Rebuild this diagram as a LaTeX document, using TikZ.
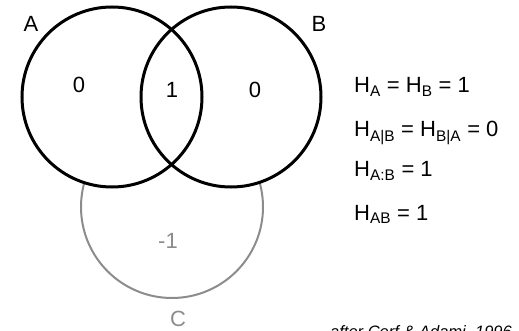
\documentclass[tikz,border=0pt]{standalone}
\usepackage{fontspec}
\setmainfont{Liberation Sans}

\begin{document}
\begin{tikzpicture}[x=1pt,y=-1pt,
    ring/.style={draw=black,line width=3pt},
    ghost/.style={draw=black!45,line width=2pt},
    txt/.style={font=\fontsize{22}{26}\selectfont,inner sep=0pt,anchor=base},
    eq/.style={txt,anchor=base west},
    faint/.style={txt,text=black!45}]
  \useasboundingbox (0,0) rectangle (519,331);
  \clip (0,0) rectangle (519,331);
  % C sits behind A and B
  \draw[ghost] (172,207) circle[radius=91pt];
  \fill[white] (112,97) circle[radius=90pt];
  \fill[white] (231,97) circle[radius=90pt];
  \draw[ring]  (112,97) circle[radius=90pt];
  \draw[ring]  (231,97) circle[radius=90pt];
  \node[txt]   (A)  at ( 31, 31.7) {A};
  \node[txt]   (B)  at (319, 32)   {B};
  \node[txt]   (a0) at ( 79, 93)   {0};
  \node[txt]   (ab) at (172, 98)   {1};
  \node[txt]   (b0) at (255, 98)   {0};
  \node[faint] (c1) at (168,248)   {-1};
  \node[faint] (C)  at (178,326)   {C};
  \node[eq] (e1) at (354, 93) {H\textsubscript{A} = H\textsubscript{B} = 1};
  \node[eq] (e2) at (354,137) {H\textsubscript{A|B} = H\textsubscript{B|A} = 0};
  \node[eq] (e3) at (354,177) {H\textsubscript{A:B} = 1};
  \node[eq] (e4) at (354,220) {H\textsubscript{AB} = 1};
  \node[inner sep=0pt,anchor=base west,font=\fontsize{16.5}{20}\selectfont\itshape]
    (src) at (330,337) {after Cerf \& Adami, 1996};
\end{tikzpicture}
\end{document}
